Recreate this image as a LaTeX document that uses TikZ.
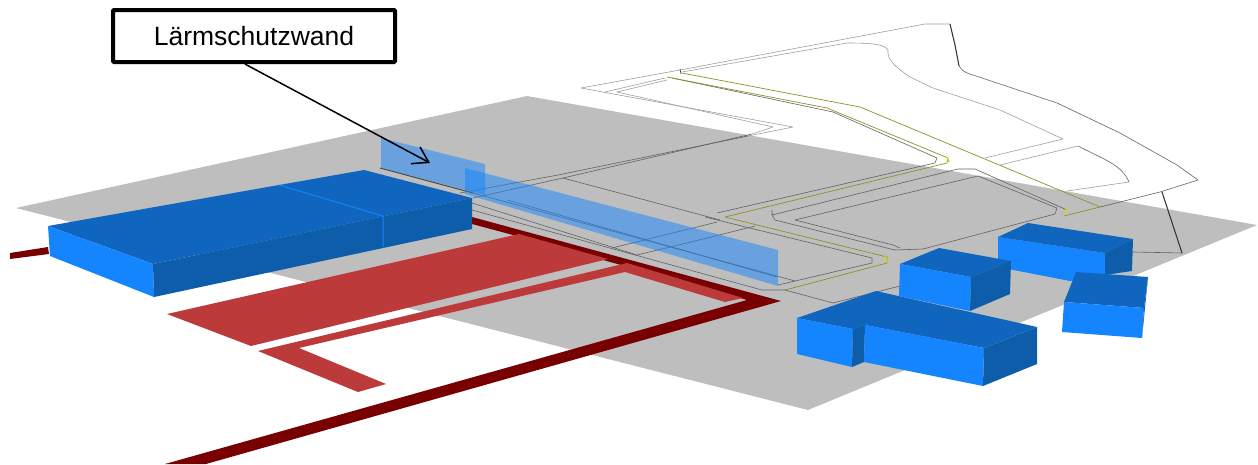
\documentclass[tikz,border=0pt]{standalone}
\usepackage{fontspec}
\setmainfont{Liberation Sans}
\usetikzlibrary{arrows.meta}
\definecolor{ground}{HTML}{BEBEBE}
\definecolor{roofblue}{HTML}{1065BE}
\definecolor{lightblue}{HTML}{1485FF}
\definecolor{darkblue}{HTML}{0E5DAB}
\definecolor{roaddark}{HTML}{780000}
\definecolor{roadlight}{HTML}{BC3A3A}
\definecolor{olive}{HTML}{8F8F28}
\definecolor{ylw}{HTML}{D8D800}
\tikzset{
  ln/.style={draw=black!62,line width=0.6pt,line join=round},
  pale/.style={draw=black!38,line width=0.6pt,line join=round},
  ink/.style={draw=black!78,line width=1.1pt,line join=round},
  oliveln/.style={draw=olive,line width=0.7pt,line join=round},
  ybit/.style={draw=ylw,line width=1.4pt},
  roof/.style={fill=roofblue,draw=none},
  lit/.style={fill=lightblue,draw=none},
  shade/.style={fill=darkblue,draw=none},
  seam/.style={draw=lightblue,line width=1pt},
  glass/.style={fill=lightblue,fill opacity=0.5,draw=none},
  labelbox/.style={draw=black,line width=4pt,rounded corners=1pt,fill=white,minimum width=282pt,minimum height=52pt,inner sep=0pt,font=\fontsize{26.5}{30}\selectfont},
  pointer/.style={draw=black,line width=1.5pt,-{Straight Barb[length=15pt,width=19pt,line width=1.5pt]}}
}
\begin{document}
\begin{tikzpicture}[x=1pt,y=-1pt]
\useasboundingbox (0,0) rectangle (1258,464);
% ground
\fill[ground] (16,208) -- (527,96) -- (1257,225) -- (808,410) -- cycle;
% plan outlines on white
\draw[pale] (581,88) -- (680,70) -- (925,24) -- (950,24);
\draw[ink] (950,24) -- (955,45) -- (959,66);
\draw[ln] (959,66) .. controls (962,70) and (964,72) .. (967,73) -- (1057,103) -- (1120,133) -- (1177,165) -- (1198,180) -- (1160,192) -- (1100,207);
\draw[pale] (682,72) -- (847,43) .. controls (870,43) and (885,44) .. (888,50) .. controls (887,58) and (892,65) .. (910,77) -- (933,88) -- (1000,110) -- (1063,139) -- (985,158);
\draw[pale] (1000,165) -- (1078,146);
\draw[ln] (1078,146) .. controls (1105,160) and (1122,165) .. (1129,182);
\draw[pale] (1129,182) -- (1067,191);
\draw[ink] (1162,192) -- (1182,253);
\draw[ln] (1182,253) -- (1133,252);
\draw[pale] (581,88) -- (793,127) -- (748,136);
\draw[pale] (605,92) -- (665,78);
\draw[pale] (617,92) -- (667,80);
\draw[pale] (617,92) -- (773,127) -- (752,134);
% lines in the site
\draw[ln] (748,136) -- (558,175) -- (460,193);
\draw[ln] (752,134) -- (563,178) -- (473,198);
\draw[ln] (563,178) -- (720,220);
\draw[ln] (672,78) -- (833,112) -- (937,158) -- (935,163) -- (717,213);
\draw[oliveln] (667,77) -- (827,108) -- (948,158) -- (947,163) -- (725,217) -- (887,257) -- (887,263) -- (785,290);
\draw[oliveln] (682,73) -- (860,107) -- (1100,207) -- (1064,216);
\draw[ink,line width=0.7pt] (680,69) -- (681,74);
\draw[ln] (772,210) -- (772,215) -- (958,169) -- (975,169) -- (1067,210);
\draw[ln] (772,215) -- (775,220) -- (895,250) -- (923,249) -- (1055,214) -- (1057,208) -- (978,176) -- (795,220) -- (893,245) -- (900,248);
\draw[ln] (705,217) -- (872,258) -- (872,263) -- (795,281) -- (778,285);
\draw[draw=black!72,line width=1pt] (380,168) -- (473,193);
\draw[ln] (473,193) -- (612,231) -- (795,281);
\draw[ln] (472,203) -- (637,255) -- (703,239) -- (755,226);
\draw[ln] (472,210) -- (762,290) -- (785,290) -- (833,303) -- (900,286);
\draw[ln] (612,248) -- (693,228) -- (717,222);
\draw[ln] (507,200) -- (777,277);
\draw[ybit] (947,157) -- (949,162);
\draw[ybit] (1067,207) -- (1065,214);
\draw[ybit] (885,256) -- (887,262);
% roads
\fill[roaddark] (10,253) -- (48,247) -- (49,254) -- (10,259) -- cycle;
\fill[roaddark] (472,217) -- (781,301) -- (206,464) -- (165,464) -- (747,300) -- (513,235) -- (472,224) -- cycle;
\fill[roadlight] (167,314) -- (519,234) -- (608,259) -- (251,346) -- cycle;
\fill[roadlight] (258,351) -- (627,263) -- (743,298) -- (725,302) -- (625,272) -- (299,348) -- (386,384) -- (358,392) -- cycle;
% noise barrier
\fill[glass] (381,138) -- (485,164) -- (485,195) -- (381,168) -- cycle;
\fill[glass] (465,168) -- (778,250) -- (778,286) -- (465,194) -- cycle;
% left building
\fill[roof] (48,226) -- (273,186) -- (279,185) -- (364,170) -- (472,198) -- (153,264) -- cycle;
\fill[lit] (48,226) -- (153,264) -- (154,297) -- (50,256) -- cycle;
\fill[shade] (153,264) -- (472,198) -- (472,229) -- (154,297) -- cycle;
\draw[seam] (279,185) -- (383,216) -- (383,247);
% right buildings
\fill[lit] (998,237) -- (1105,253) -- (1105,275) -- (1070,281) -- (998,267) -- cycle;
\fill[roof] (998,237) -- (1028,223) -- (1133,239) -- (1105,253) -- cycle;
\fill[shade] (1105,253) -- (1133,239) -- (1132,271) -- (1105,275) -- cycle;
\fill[roof] (900,264) -- (939,248) -- (1011,261) -- (971,277) -- cycle;
\fill[lit] (900,264) -- (971,277) -- (970,311) -- (899,296) -- cycle;
\fill[shade] (971,277) -- (1011,261) -- (1010,294) -- (970,311) -- cycle;
\fill[roof] (1064,302) -- (1076,272) -- (1148,277) -- (1144,308) -- cycle;
\fill[lit] (1064,302) -- (1144,308) -- (1142,338) -- (1062,332) -- cycle;
\fill[shade] (1144,308) -- (1148,277) -- (1142,338) -- cycle;
\fill[roof] (797,318) -- (876,291) -- (1037,327) -- (984,348) -- (865,325) -- (853,329) -- cycle;
\fill[lit] (797,318) -- (853,329) -- (852,367) -- (797,354) -- cycle;
\fill[shade] (853,329) -- (865,325) -- (864,362) -- (852,367) -- cycle;
\fill[lit] (865,325) -- (984,348) -- (983,386) -- (864,362) -- cycle;
\fill[shade] (984,348) -- (1037,327) -- (1037,364) -- (983,386) -- cycle;
% label and pointer
\node[labelbox] (lbl) at (254,36) {\raisebox{-2pt}{Lärmschutzwand}};
\coordinate (wallpoint) at (430,163);
\draw[pointer] (lbl.-108) -- (wallpoint);
\end{tikzpicture}
\end{document}
